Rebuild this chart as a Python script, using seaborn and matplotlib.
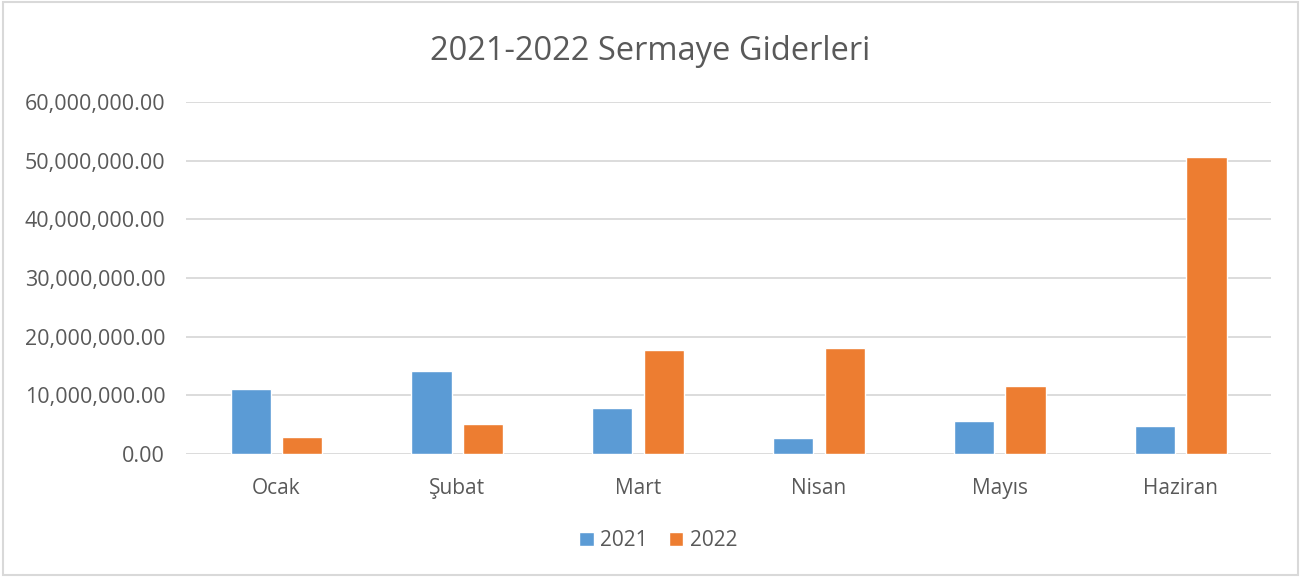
import pandas as pd
import seaborn as sns
import matplotlib.pyplot as plt
from matplotlib.patches import Rectangle
from matplotlib.ticker import FuncFormatter

months = ["Ocak", "Şubat", "Mart", "Nisan", "Mayıs", "Haziran"]
y2021 = [11080000, 14090000, 7780000, 2730000, 5570000, 4830000]
y2022 = [2840000, 5110000, 17780000, 18070000, 11590000, 50570000]
years = ["2021", "2022"]

df = pd.DataFrame({
    "Ay": months * 2,
    "Yıl": [years[0]] * len(months) + [years[1]] * len(months),
    "Tutar": y2021 + y2022,
})

sns.set_theme(style="white")
plt.rcParams["font.family"] = ["Open Sans", "DejaVu Sans"]
txt = "#595959"

fig = plt.figure(figsize=(13.01, 5.77), dpi=100)
ax = fig.add_axes([0.143, 0.2132, 0.834, 0.61])

sns.barplot(data=df, x="Ay", y="Tutar", hue="Yıl", order=months,
            palette=["#5B9BD5", "#ED7D31"], width=0.57, gap=0.22,
            saturation=1, ax=ax, legend=True)

ax.set_ylim(0, 60000000)
ax.set_yticks(range(0, 60000001, 10000000))
ax.yaxis.set_major_formatter(FuncFormatter(lambda v, p: f"{v:,.2f}"))
ax.grid(axis="y", color="#D9D9D9", linewidth=1.3)
ax.set_axisbelow(True)
for s in ax.spines.values():
    s.set_visible(False)
ax.set_xlabel("")
ax.set_ylabel("")
ax.tick_params(axis="y", labelsize=15.5, colors=txt, pad=15, length=0)
ax.tick_params(axis="x", labelsize=15, colors=txt, pad=17, length=0)

fig.suptitle("2021-2022 Sermaye Giderleri", y=0.94, fontsize=23.5, color=txt)

handles, labels = ax.get_legend_handles_labels()
ax.get_legend().remove()
fig.legend(handles, labels, loc="center", bbox_to_anchor=(0.506, 0.063), ncol=2,
           frameon=False, fontsize=15, labelcolor=txt, handlelength=0.7,
           handleheight=0.7, handletextpad=0.3, columnspacing=1.0)

fig.patches.append(Rectangle((0.002, 0.003), 0.996, 0.994, transform=fig.transFigure,
                             fill=False, edgecolor="#D9D9D9", linewidth=1.5))

fig.savefig("out.png", dpi=100, facecolor="white")
